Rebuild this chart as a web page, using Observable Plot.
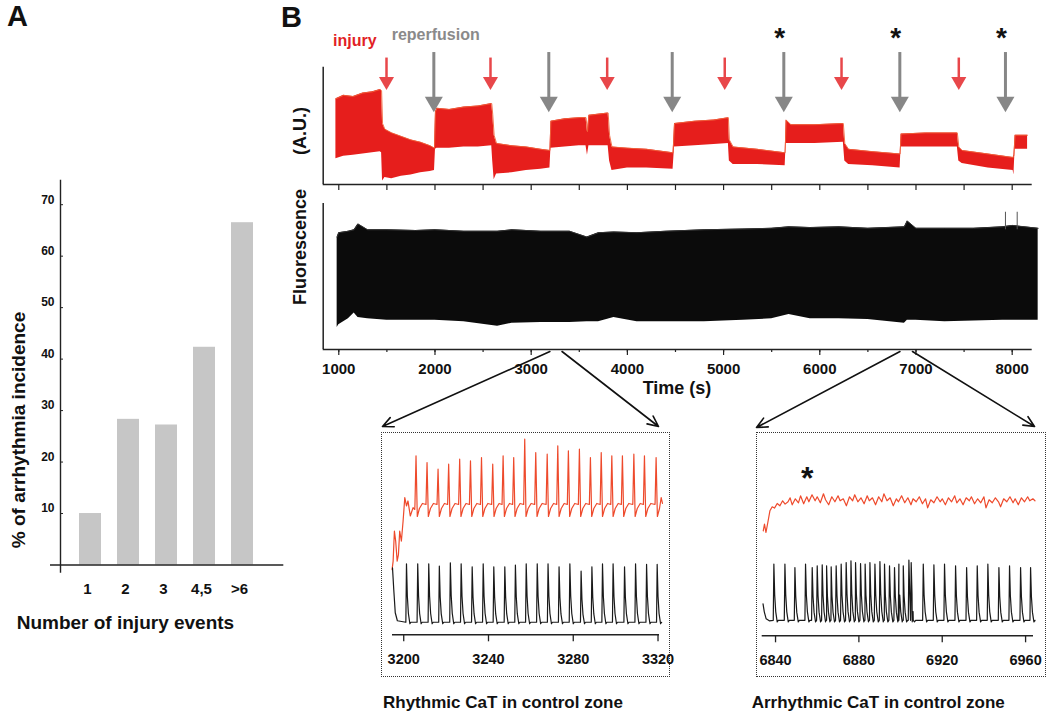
<!DOCTYPE html>
<html><head><meta charset="utf-8">
<script src="https://cdn.jsdelivr.net/npm/d3@7"></script>
<script src="https://cdn.jsdelivr.net/npm/@observablehq/plot@0.6"></script>
<style>
body{margin:0;background:#fff;}
#fig{position:relative;width:1050px;height:715px;overflow:hidden;font-family:"Liberation Sans",Arial,Helvetica,sans-serif;font-weight:bold;color:#111;background:#fff;}
.t{position:absolute;white-space:pre;line-height:1;}
.box{position:absolute;border:1.6px dotted #333;box-sizing:border-box;}
</style></head><body><div id="fig"></div><script>
// ---------- Panel A data ----------
const cats = ["1","2","3","4,5",">6"];
const pct = [10, 28.3, 27.2, 42.3, 66.5];
const yTicksA = [10,20,30,40,50,60,70];

// ---------- Panel B main traces ----------
const injuryT = [1496, 2577, 3790, 5012, 6226, 7445];
const reperfT = [1988, 3183, 4466, 5626, 6832, 7930];
const starT = [5626, 6832, 7930];
const majorT = [1000,2000,3000,4000,5000,6000,7000,8000];
const minorT = [1000,1500,2000,2500,3000,3500,4000,4500,5000,5500,6000,6500,7000,7500,8000];

const redT  = [970,1050,1150,1250,1350,1430,1445,1455,1480,1550,1650,1750,1850,1950,1995,2005,2020,2150,2300,2450,2590,2600,2615,2640,2800,2950,3100,3195,3205,3350,3500,3570,3585,3600,3800,3815,3840,4000,4200,4475,4490,4700,4900,5050,5060,5100,5350,5640,5650,5700,5950,6245,6260,6300,6550,6835,6845,7100,7430,7445,7480,7750,8010,8018,8030,8160];
const redLo = [22,24,25,26,27,28,27,3,6,5,7,8,10,11,12,30,31,31,32,32,33,20,4,9,10,12,13,14,31,32,33,33,25,33,33,20,12,14,14,13,32,33,34,35,20,17,17,16,35,35,35,36,20,17,16,14,32,32,32,20,18,14,12,8,30,30];
const redHi = [73,76,75,78,79,81,80,52,47,44,41,38,36,33,31,62,65,64,66,67,69,60,42,35,33,32,30,29,54,56,57,57,45,59,61,42,32,31,30,27,52,54,55,57,38,32,30,27,55,51,51,52,35,30,28,26,43,44,44,32,29,26,23,25,42,42];

const blkT  = [983,1000,1100,1160,1200,1300,1500,1800,2000,2300,2650,2800,3100,3400,3580,3700,3860,4100,4400,4800,5200,5500,5680,5900,6200,6500,6880,6910,7000,7300,7600,7900,8000,8270];
const blkLo = [15,17,21,25,22,21,20,20,20,19,16,18,18.5,18.5,19,19,22,19,19,19,20,21,24,21,21,20.5,18,20,20,19,19.5,20,20,20];
const blkHi = [77,80,81,82,86,82,82,81.5,82,81,81,82,81,81,77,80,80.5,80,81,82,82.5,83,84,83.5,84,83,84,88,83,83,83,84,85,83];
const blkOutT = [7930, 8052];
const blkOutV = [94, 94];

// ---------- Inset 1 (rhythmic) ----------
const ins1Domain = [3194.7, 3320.7];
const ins1Ticks = [3200,3240,3280,3320];
const red1Rise = [[3194.5,65],[3195,73.5],[3195.6,103.5],[3196.2,93.5],[3196.9,73.5],[3197.5,80],[3198.1,103.5],[3198.9,93.5],[3199.7,113.5],[3200.5,136.8],[3201.3,128.5],[3202,133.5],[3203.1,118.5],[3204.4,126.8],[3205.2,125]];
const red1SpikeT = [3205.8,3211.0,3216.2,3221.2,3226.4,3231.5,3236.7,3242.0,3246.9,3251.9,3257.1,3262.3,3267.7,3272.7,3277.7,3282.9,3288.1,3293.2,3298.2,3303.2,3308.6,3313.6,3319.1];
const red1SpikeV = [178.5,171.8,165.2,170.2,175.2,173.5,176.8,170.2,178.5,176.8,195.2,181.8,180.2,188.5,183.5,185.2,176.8,181.8,178.5,178.5,180.2,178.5,176.8];
const red1Base = 128;
const red1End = [3321.5,136.8];
const blk1Start = [[3194.7,66.8],[3195.3,45],[3196,22],[3197,14]];
const blk1SpikeT = [3201.3,3206.6,3211.8,3216.8,3222.0,3227.1,3232.3,3237.5,3242.5,3247.7,3252.7,3257.8,3263.0,3268.1,3273.3,3278.4,3283.7,3288.8,3293.8,3298.8,3304.2,3309.4,3314.6,3319.6];
const blk1SpikeV = [70.8,70.8,70.8,68.5,71.8,70.8,67.8,70.8,67.8,67.8,69.5,70.8,70.8,70.8,67.8,70.8,63.5,67.8,70.8,70.8,67.8,70.8,70.2,70.2];
const blk1Base = 12.5;
const blk1End = [3321.5,12];

// ---------- Inset 2 (arrhythmic) ----------
const ins2Domain = [6833.6, 6963.8];
const ins2Ticks = [6840,6880,6920,6960];
const red2T = [6834.1,6834.7,6835.4,6836.3,6837.3,6838.4,6839.5,6840.8,6842.1,6843.4,6844.6,6846,6847,6848,6849.5,6851,6852,6853.5,6855,6856,6857.5,6859,6860,6861.5,6863,6864,6865.5,6867,6868.5,6870,6871,6872.5,6874,6875.5,6877,6878,6879.5,6881,6882.5,6884,6885,6886.5,6888,6889.5,6891,6892,6893.5,6895,6896.5,6898,6899,6900.5,6902,6903.5,6905,6906,6907.5,6909,6910.5,6912,6913,6914.5,6916,6917.5,6919,6920,6921.5,6923,6924.5,6926,6927,6928.5,6930,6931.5,6933,6934,6935.5,6937,6938.5,6940,6941,6942.5,6944,6945.5,6947,6948,6949.5,6951,6952.5,6954,6955,6956.5,6958,6959.5,6961,6962,6963.5,6964.5];
const red2V = [105,111.7,103.3,113.3,125,129,127.7,132.3,130,135,131.7,134,138,131,137,133,140,132,139,134,141,135,139,133,142,136,131,139,134,140,135,137,130,139,135,141,134,138,132,140,135,138,131,139,134,142,135,138,130,137,134,140,133,138,131,137,134,139,132,137,128,136,133,139,134,137,131,138,134,140,133,137,131,138,135,139,132,137,133,139,128,136,133,138,134,129,137,134,139,133,137,131,138,134,139,135,137,135];
const blk2Start = [[6834.0,32],[6834.6,24],[6835.5,17],[6837,15]];
const blk2SpikeT = [6839.2,6844.5,6849.3,6854.4,6857.6,6860.0,6862.4,6864.5,6866.7,6869.1,6871.5,6873.9,6876.2,6878.4,6880.8,6883.0,6885.3,6887.7,6890.1,6892.3,6894.7,6897.1,6899.2,6901.3,6904.0,6905.1,6910.9,6916.0,6921.1,6926.4,6931.7,6936.8,6941.9,6947.2,6952.3,6957.6,6962.4];
const blk2SpikeV = [71.7,71.7,68.3,71.7,68.3,70,71,70,69,70,71.7,73.3,75,73.3,72.3,71.7,73.3,71.7,74.3,71.7,70,68.3,71.7,70,75.7,73.3,71.7,71,71.7,70,68.3,70,71.7,68.3,70,68.3,68.3];
const blk2Base = 15.5;
const blk2End = [6964.5,15];
const star2 = [6855.2];

// ---------- helpers ----------
const FONT = '"Liberation Sans", Arial, Helvetica, sans-serif';
const fig = document.getElementById("fig");
function put(node, left, top){ node.style.position="absolute"; node.style.left=left+"px"; node.style.top=top+"px"; fig.appendChild(node); return node; }
function txt(s, x, base, size, opts = {}){
  const d = document.createElement("div");
  d.className = "t"; d.textContent = s;
  d.style.fontSize = size + "px";
  d.style.color = opts.color || "#111";
  d.style.left = x + "px";
  d.style.top = (base - 0.8465*size) + "px";
  if (opts.center) d.style.transform = "translateX(-50%)";
  fig.appendChild(d); return d;
}
function vtxt(html, cx, cy, size){
  const d = document.createElement("div");
  d.className = "t"; d.innerHTML = html;
  d.style.fontSize = size + "px";
  d.style.left = cx + "px"; d.style.top = cy + "px";
  d.style.transform = "translate(-50%,-50%) rotate(-90deg)";
  fig.appendChild(d); return d;
}
function blackWave(start, ts, vs, base, end){
  const pts = start.map(p => ({t:p[0], v:p[1]}));
  ts.forEach((t,i) => {
    const p = vs[i], a = p - base;
    pts.push({t:t-0.3,v:base},{t,v:p},{t:t+0.4,v:base+a*0.45},{t:t+0.9,v:base+a*0.15},{t:t+1.6,v:base-1.5},{t:t+2.1,v:base});
  });
  pts.push({t:end[0], v:end[1]});
  return pts.sort((a,b)=>a.t-b.t);
}
function redWave(start, ts, vs, base, end){
  const pts = start.map(p => ({t:p[0], v:p[1]}));
  ts.forEach((t,i) => {
    const p = vs[i];
    pts.push({t:t-0.5,v:base+2},{t,v:p},{t:t+0.6,v:base-10},{t:t+1.6,v:base-2},{t:t+3,v:base+3});
  });
  pts.push({t:end[0], v:end[1]});
  return pts.sort((a,b)=>a.t-b.t);
}
const baseStyle = {fontFamily: FONT, fontWeight: "bold", background: "transparent", overflow: "visible", color: "#111"};

// ---------- Panel A ----------
txt("A", 7, 26.7, 29);
const barData = cats.map((c,i)=>({cat:c, pct:pct[i]}));
const plotA = Plot.plot({
  width: 300, height: 470,
  marginLeft: 60, marginRight: 16.7, marginTop: 10, marginBottom: 75.5,
  x: {type: "band", domain: cats, range: [68.56, 262.9], paddingInner: 0.41, paddingOuter: 0.205},
  y: {domain: [0, 74.7]},
  style: {...baseStyle, fontSize: "12px"},
  marks: [
    Plot.barY(barData, {x: "cat", y: "pct", fill: "#c6c6c6"}),
    Plot.ruleY([0], {insetLeft: -10, strokeWidth: 1.4, stroke: "#222"}),
    Plot.frame({anchor: "left", insetBottom: -7, strokeWidth: 1.4, stroke: "#222"}),
    Plot.axisY({ticks: yTicksA, tickSize: -3, tickFormat: () => "", label: null, stroke: "#222"}),
    Plot.axisY({ticks: yTicksA, tickSize: 0, tickPadding: 6, dy: -5, label: null, fontSize: 12, fontWeight: "bold"}),
    Plot.axisX({tickSize: 0, tickPadding: 18, dx: -3, label: null, fontSize: 15, fontWeight: "bold"})
  ]
});
put(plotA, 0, 170);
txt("Number of injury events", 16.7, 629.3, 19);
vtxt("% of arrhythmia incidence", 18.3, 430, 19);

// ---------- Panel B top (red) ----------
txt("B", 281, 28, 29);
txt("injury", 333, 46.7, 16, {color: "#e21f26"});
txt("reperfusion", 391.7, 40.7, 16, {color: "#8a8a8a"});
const xDomain = [838, 8208];
const redData = redT.map((t,i)=>({t, lo: redLo[i], hi: redHi[i]}));
const plotTop = Plot.plot({
  width: 745, height: 175,
  marginLeft: 22.7, marginRight: 13.3, marginTop: 46.7, marginBottom: 11,
  x: {domain: xDomain}, y: {domain: [0, 100], axis: null},
  style: {...baseStyle, fontSize: "15px"},
  marks: [
    Plot.areaY(redData, {x: "t", y1: "lo", y2: "hi", fill: "#e61e1c"}),
    Plot.line(redData, {x: "t", y: "hi", stroke: "#f0623a", strokeWidth: 0.9}),
    Plot.ruleX([xDomain[0]], {stroke: "#222", strokeWidth: 1.5}),
    Plot.ruleY([0], {stroke: "#222", strokeWidth: 1.5}),
    Plot.axisX({ticks: minorT, tickSize: 6, tickFormat: () => "", label: null, stroke: "#222", strokeWidth: 1.2}),
    Plot.ruleX(reperfT, {x: d => d, y1: () => 112.5, y2: () => 72, stroke: "#878787", strokeWidth: 3}),
    Plot.dot(reperfT, {x: d => d, y: () => 61.6, symbol: "triangle2", rotate: 180, r: 8.6, fill: "#878787", dy: -10.4}),
    Plot.ruleX(injuryT, {x: d => d, y1: () => 107.8, y2: () => 89, stroke: "#e8474a", strokeWidth: 2.5}),
    Plot.dot(injuryT, {x: d => d, y: () => 80.6, symbol: "triangle2", rotate: 180, r: 7.2, fill: "#e8474a", dy: -8.7}),
    Plot.text(starT, {x: d => d, y: () => 131.3, text: () => "*", fontSize: 28, fontWeight: "bold", dy: 7.3, dx: -4, fill: "#111"})
  ]
});
put(plotTop, 300, 20);

// ---------- Panel B bottom (black) ----------
const blkData = blkT.map((t,i)=>({t, lo: blkLo[i], hi: blkHi[i]}));
const blkOut = blkOutT.map((t,i)=>({t, v: blkOutV[i]}));
const plotBot = Plot.plot({
  width: 745, height: 200,
  marginLeft: 22.7, marginRight: 13.3, marginTop: 8, marginBottom: 46,
  x: {domain: xDomain}, y: {domain: [0, 100], axis: null},
  style: {...baseStyle, fontSize: "15px"},
  marks: [
    Plot.areaY(blkData, {x: "t", y1: "lo", y2: "hi", fill: "#0b0b0b"}),
    Plot.line(blkData, {x: "t", y: "hi", stroke: "#333", strokeWidth: 1}),
    Plot.ruleX(blkOut, {x: "t", y1: () => 82, y2: "v", stroke: "#555", strokeWidth: 1}),
    Plot.ruleX([xDomain[0]], {stroke: "#222", strokeWidth: 1.5}),
    Plot.ruleY([0], {stroke: "#222", strokeWidth: 1.5}),
    Plot.axisX({ticks: minorT, tickSize: 3, tickFormat: () => "", label: null, stroke: "#222", strokeWidth: 1.2}),
    Plot.axisX({ticks: majorT, tickSize: 6, tickPadding: 7.5, tickFormat: d => String(d), label: null, fontSize: 15, fontWeight: "bold", stroke: "#222", strokeWidth: 1.2})
  ]
});
put(plotBot, 300, 195);
txt("Time (s)", 677, 394, 18, {center: true});
vtxt('Fluorescence<span style="display:inline-block;width:34px"></span>(A.U.)', 300, 205.7, 18);

// ---------- Inset 1 ----------
const red1 = redWave(red1Rise, red1SpikeT, red1SpikeV, red1Base, red1End);
const blk1 = blackWave(blk1Start, blk1SpikeT, blk1SpikeV, blk1Base, blk1End);
const b1 = document.createElement("div"); b1.className = "box";
b1.style.width = "289px"; b1.style.height = "245px"; put(b1, 381, 431.7);
const plotI1 = Plot.plot({
  width: 289, height: 245,
  marginLeft: 11, marginRight: 11, marginTop: 1.8, marginBottom: 42.7,
  x: {domain: ins1Domain}, y: {domain: [0, 200], axis: null},
  style: {...baseStyle, fontSize: "14.5px"},
  marks: [
    Plot.line(red1, {x: "t", y: "v", stroke: "#ee4a2c", strokeWidth: 1.2}),
    Plot.line(blk1, {x: "t", y: "v", stroke: "#1a1a1a", strokeWidth: 1.2}),
    Plot.ruleY([0], {stroke: "#222", strokeWidth: 1.5}),
    Plot.axisX({ticks: ins1Ticks, tickSize: 7, tickPadding: 12, tickFormat: d => String(d), label: null, fontSize: 14.5, fontWeight: "bold", stroke: "#222", strokeWidth: 1.3})
  ]
});
put(plotI1, 381, 431.7);
txt("Rhythmic CaT in control zone", 383, 708.3, 17);

// ---------- Inset 2 ----------
const red2 = red2T.map((t,i)=>({t, v: red2V[i]}));
const blk2 = blackWave(blk2Start, blk2SpikeT, blk2SpikeV, blk2Base, blk2End);
const b2 = document.createElement("div"); b2.className = "box";
b2.style.width = "290px"; b2.style.height = "245px"; put(b2, 756, 431.7);
const plotI2 = Plot.plot({
  width: 290, height: 245,
  marginLeft: 5.7, marginRight: 13, marginTop: 3.3, marginBottom: 41.7,
  x: {domain: ins2Domain}, y: {domain: [0, 200], axis: null},
  style: {...baseStyle, fontSize: "14.5px"},
  marks: [
    Plot.line(red2, {x: "t", y: "v", stroke: "#ee4a2c", strokeWidth: 1.2}),
    Plot.line(blk2, {x: "t", y: "v", stroke: "#1a1a1a", strokeWidth: 1.2}),
    Plot.text(star2, {x: d => d, y: () => 165, text: () => "*", fontSize: 32, fontWeight: "bold", dy: 8.3, fill: "#111"}),
    Plot.ruleY([0], {stroke: "#222", strokeWidth: 1.5}),
    Plot.axisX({ticks: ins2Ticks, tickSize: 7, tickPadding: 12, tickFormat: d => String(d), label: null, fontSize: 14.5, fontWeight: "bold", stroke: "#222", strokeWidth: 1.3})
  ]
});
put(plotI2, 756, 431.7);
txt("Arrhythmic CaT in control zone", 751.7, 708.3, 17);

// ---------- zoom connectors ----------
const xMain = Plot.scale({x: {domain: xDomain, range: [322.7, 1031.7]}});
const conn = [
  {x1: xMain.apply(ins1Domain[0]), y1: 351, x2: 382, y2: 426},
  {x1: xMain.apply(ins1Domain[1]), y1: 351, x2: 658, y2: 426},
  {x1: xMain.apply(ins2Domain[0]), y1: 351, x2: 756, y2: 427},
  {x1: xMain.apply(ins2Domain[1]), y1: 351, x2: 1034, y2: 426}
];
const overlay = Plot.plot({
  width: 1050, height: 715, margin: 0,
  x: {type: "identity", axis: null}, y: {type: "identity", axis: null},
  style: {...baseStyle, pointerEvents: "none"},
  marks: [Plot.arrow(conn, {x1: "x1", y1: "y1", x2: "x2", y2: "y2", stroke: "#111", strokeWidth: 1.6, headLength: 11, headAngle: 50})]
});
put(overlay, 0, 0);
</script></body></html>
